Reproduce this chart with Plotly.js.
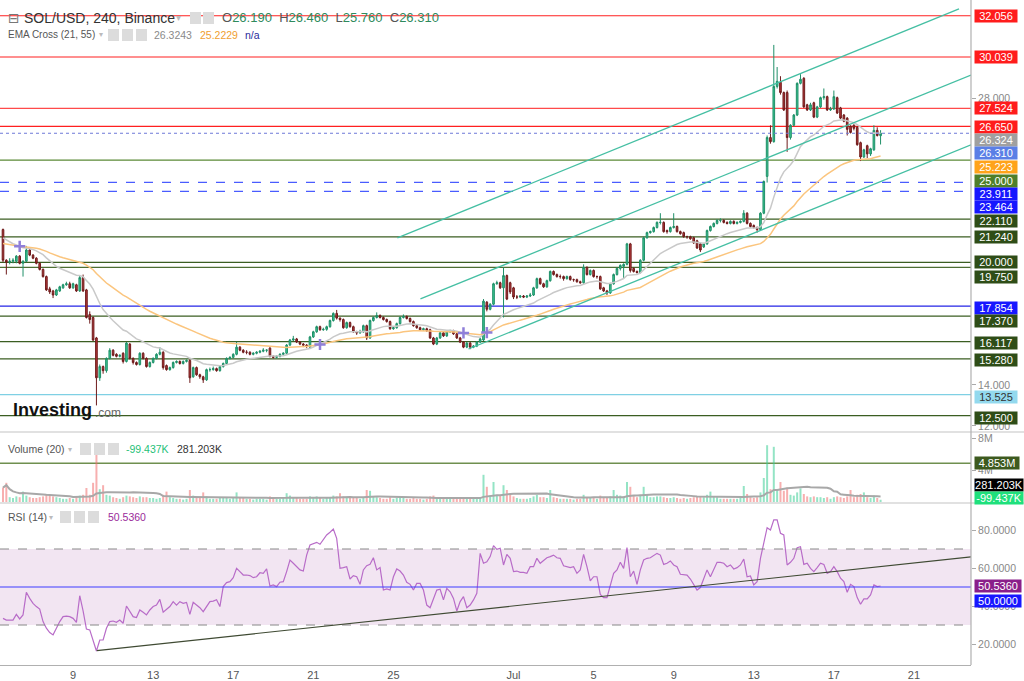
<!DOCTYPE html>
<html><head><meta charset="utf-8">
<script src="https://cdn.plot.ly/plotly-3.0.1.min.js"></script>
<style>html,body{margin:0;padding:0;background:#fff;} #chart{width:1024px;height:681px;}</style>
</head><body><div id="chart"></div>
<script>
// ---------------- DATA ----------------
const openPrice = [
21.60,20.10,20.00,20.05,20.05,20.30,19.95,20.05,20.60,20.35,
20.20,19.95,19.65,19.30,18.70,18.60,18.40,18.60,18.75,18.90,
18.95,18.75,18.90,18.60,19.25,18.65,17.45,17.30,16.30,14.35,
14.90,14.70,15.30,15.70,15.50,15.40,15.55,15.15,16.00,15.30,
15.10,15.00,15.55,15.30,14.90,15.10,15.30,15.50,15.60,14.95,
14.75,14.85,15.10,15.15,15.05,15.15,15.20,14.40,14.85,14.50,
14.40,14.25,14.75,14.75,14.80,14.70,14.90,15.05,15.30,15.35,
15.50,15.85,15.70,15.60,15.60,15.50,15.55,15.60,15.65,15.70,
15.80,15.40,15.35,15.40,15.50,15.55,15.95,16.20,16.25,16.10,
16.00,15.95,15.85,16.35,16.60,16.85,16.70,16.72,16.85,17.15,
17.50,17.27,17.20,16.80,17.05,16.85,16.60,16.55,16.60,16.90,
16.30,17.15,17.30,17.40,17.30,17.20,17.10,16.75,16.80,17.00,
17.30,17.35,17.25,17.10,16.90,16.80,16.70,16.75,16.70,16.30,
16.00,16.30,16.55,16.40,16.60,16.65,16.50,16.30,16.10,15.85,
16.05,15.85,15.90,16.10,16.20,18.05,17.70,17.95,18.95,19.00,
18.75,19.35,19.00,18.75,18.30,18.30,18.35,18.30,18.35,18.40,
18.75,19.20,18.95,18.80,19.10,19.55,19.40,19.30,19.30,19.20,
19.30,19.15,19.15,19.05,19.00,19.75,19.40,19.60,19.30,19.30,
18.75,18.60,18.50,18.95,19.40,19.70,19.80,19.90,20.90,19.70,
19.55,19.50,20.10,21.20,21.45,21.50,21.70,21.95,21.95,21.55,
21.50,21.70,21.75,21.50,21.45,21.25,21.25,21.20,21.05,20.90,
20.75,20.90,21.55,21.75,21.90,22.05,22.05,21.95,21.90,22.00,
21.90,21.95,22.00,22.40,21.90,21.80,21.70,21.60,22.40,24.20,
26.10,25.90,28.60,28.80,28.30,28.30,26.10,26.70,27.20,28.75,
29.00,27.70,27.45,27.80,27.10,27.60,28.05,28.10,27.45,27.50,
28.05,27.55,27.20,27.05,26.65,26.70,26.60,25.85,25.15,25.70,
25.30,25.50,26.45,26.19];
const highPrice = [
21.65,20.15,20.20,20.20,20.35,20.35,20.10,20.80,20.65,20.40,
20.25,20.00,19.70,19.35,18.80,18.65,18.70,18.85,18.95,19.05,
19.05,19.00,18.95,19.35,19.40,18.70,17.60,17.35,16.35,15.00,
14.95,15.35,15.80,15.75,15.55,15.50,15.60,16.10,16.05,15.35,
15.15,15.60,15.60,15.35,15.15,15.35,15.55,15.85,15.65,15.00,
14.90,15.15,15.20,15.20,15.20,15.25,15.25,14.90,14.90,14.55,
14.45,14.80,14.85,14.90,14.85,14.95,15.10,15.35,15.40,15.55,
16.10,15.90,15.75,15.70,15.65,15.60,15.65,15.70,15.80,15.75,
15.85,15.45,15.45,15.55,15.60,16.00,16.25,16.40,16.30,16.15,
16.05,16.00,16.40,16.65,16.90,16.90,16.80,16.90,17.20,17.55,
17.67,17.30,17.25,17.10,17.10,16.90,16.65,16.70,16.95,16.95,
17.20,17.35,17.55,17.45,17.35,17.25,17.15,16.85,17.05,17.35,
17.45,17.40,17.30,17.15,16.95,16.85,16.80,16.80,16.75,16.35,
16.35,16.60,16.60,16.65,16.70,16.70,16.55,16.35,16.15,16.10,
16.10,15.95,16.15,16.30,18.20,18.10,18.00,19.00,19.10,19.05,
19.75,19.40,19.05,18.80,18.40,18.40,18.40,18.40,18.50,18.80,
19.25,19.25,19.00,19.15,19.60,19.60,19.45,19.40,19.35,19.35,
19.35,19.20,19.20,19.10,19.90,19.80,19.65,19.65,19.35,19.35,
18.80,18.65,19.00,19.45,19.75,19.90,19.95,20.95,20.95,19.75,
19.60,20.15,21.25,21.50,21.55,21.75,22.00,22.40,22.00,21.60,
21.75,22.40,21.80,21.55,21.50,21.30,21.30,21.25,21.10,20.95,
20.95,21.60,21.80,21.95,22.10,22.15,22.10,22.00,22.05,22.05,
22.00,22.05,22.55,22.45,21.95,21.85,21.75,22.45,24.00,26.20,
26.70,30.63,29.55,29.10,28.35,28.40,26.75,27.25,28.80,29.20,
29.05,27.75,27.80,27.85,27.65,28.10,28.50,28.15,27.60,28.40,
28.10,27.60,27.25,27.10,26.70,26.75,26.65,25.90,25.55,25.75,
25.60,26.70,26.60,26.46];
const lowPrice = [
20.00,19.40,19.90,19.95,19.95,19.90,19.30,20.00,20.30,20.15,
19.90,19.60,19.25,18.60,18.45,18.25,18.35,18.55,18.70,18.85,
18.70,18.70,18.55,18.55,18.55,17.25,17.00,16.15,13.00,14.20,
14.55,14.60,15.25,15.40,15.35,15.35,15.05,15.10,15.25,15.00,
14.95,14.95,15.25,14.85,14.85,15.05,15.25,15.45,14.75,14.70,
14.70,14.80,15.05,15.00,15.00,15.10,14.10,14.35,14.45,14.30,
14.10,14.20,14.65,14.70,14.65,14.65,14.85,15.00,15.25,15.30,
15.45,15.65,15.55,15.50,15.45,15.45,15.50,15.55,15.60,15.60,
15.35,15.30,15.30,15.35,15.45,15.50,15.90,16.15,16.05,15.95,
15.85,15.80,15.80,16.30,16.55,16.65,16.65,16.65,16.80,17.10,
17.20,17.10,16.75,16.75,16.80,16.55,16.45,16.50,16.55,16.20,
16.25,17.10,17.25,17.25,17.15,17.05,16.70,16.70,16.75,16.95,
17.25,17.20,17.05,16.85,16.75,16.65,16.65,16.60,16.25,15.95,
15.95,16.25,16.35,16.35,16.55,16.45,16.25,16.05,15.80,15.80,
15.75,15.80,15.85,16.05,16.15,17.60,17.65,17.90,18.90,18.70,
17.30,18.15,18.45,18.20,18.20,18.25,18.25,18.25,18.30,18.35,
18.70,18.90,18.75,18.75,19.05,19.35,19.25,19.20,19.10,19.15,
19.10,19.05,19.00,18.95,18.95,19.35,19.35,19.25,19.20,18.65,
18.55,18.40,18.45,18.90,19.35,19.60,19.20,19.85,19.50,19.50,
19.45,19.45,20.05,21.15,21.40,21.45,21.65,21.85,21.45,21.40,
21.45,21.65,21.45,21.35,21.20,21.15,21.10,20.90,20.65,20.50,
20.70,20.85,21.50,21.70,21.85,21.95,21.90,21.85,21.85,21.85,
21.85,21.90,21.95,21.85,21.70,21.65,21.45,21.55,22.35,23.90,
25.80,25.85,28.50,28.20,27.40,25.40,26.00,26.65,27.15,28.70,
27.55,27.40,27.40,27.05,27.05,27.55,27.95,27.40,27.40,27.45,
27.25,27.00,26.85,26.20,26.30,26.45,25.70,24.95,25.10,25.10,
25.20,25.45,26.15,25.76];
const closePrice = [
20.10,20.00,20.05,20.10,20.30,19.95,20.05,20.60,20.35,20.20,
19.95,19.65,19.30,18.65,18.55,18.40,18.65,18.80,18.90,18.95,
18.75,18.95,18.60,19.25,18.60,17.30,17.20,16.20,14.35,14.90,
14.70,15.30,15.70,15.45,15.40,15.45,15.15,16.05,15.30,15.10,
15.00,15.55,15.30,14.90,15.10,15.30,15.50,15.60,14.85,14.75,
14.85,15.10,15.15,15.05,15.15,15.20,14.35,14.85,14.50,14.40,
14.25,14.75,14.75,14.80,14.70,14.90,15.05,15.30,15.35,15.50,
15.85,15.70,15.60,15.60,15.50,15.55,15.60,15.65,15.70,15.70,
15.40,15.35,15.40,15.50,15.55,15.95,16.20,16.25,16.10,16.00,
15.95,15.90,16.35,16.60,16.85,16.70,16.72,16.85,17.15,17.50,
17.27,17.20,16.80,17.05,16.85,16.60,16.55,16.60,16.90,16.30,
17.15,17.30,17.40,17.30,17.20,17.10,16.75,16.80,17.00,17.30,
17.35,17.25,17.10,16.90,16.80,16.70,16.75,16.65,16.30,16.00,
16.30,16.55,16.40,16.60,16.65,16.50,16.30,16.10,15.85,16.05,
15.85,15.90,16.10,16.25,18.10,17.70,17.95,18.95,19.00,18.75,
19.35,18.20,18.55,18.30,18.30,18.35,18.30,18.35,18.40,18.75,
19.20,18.95,18.80,19.10,19.55,19.40,19.30,19.30,19.20,19.30,
19.15,19.15,19.05,19.00,19.75,19.40,19.60,19.30,19.30,18.70,
18.60,18.50,18.95,19.40,19.70,19.85,19.90,20.90,19.60,19.55,
19.50,20.10,21.20,21.45,21.50,21.70,21.95,21.95,21.50,21.50,
21.70,21.75,21.50,21.40,21.25,21.25,21.15,20.95,20.70,20.60,
20.90,21.55,21.75,21.90,22.05,22.05,21.95,21.90,22.00,21.90,
21.95,22.00,22.40,21.90,21.75,21.70,21.60,22.40,23.95,26.10,
25.90,28.60,28.85,28.30,27.45,26.10,26.70,27.20,28.75,28.95,
27.60,27.45,27.70,27.10,27.60,28.05,28.10,27.45,27.50,28.10,
27.30,27.05,26.90,26.50,26.35,26.55,25.75,25.15,25.50,25.30,
25.55,26.45,26.20,26.31];
// volume in millions
const volumeM = [
1.8,2.4,0.6,0.5,0.7,0.6,1.3,0.8,0.6,0.5,
0.5,0.6,0.7,0.9,0.8,0.7,0.6,0.5,0.4,0.4,
0.5,0.4,0.6,0.8,0.9,1.75,0.9,2.4,6.3,1.6,
2.1,0.9,0.8,0.6,0.5,0.4,0.6,0.8,0.7,0.6,
0.5,0.7,0.6,0.6,0.5,0.5,0.4,0.5,0.9,1.3,
0.6,0.5,0.4,0.4,0.3,0.4,1.5,0.8,0.6,0.5,
1.2,0.7,0.4,0.4,0.4,0.5,0.5,0.6,0.4,0.5,
1.2,0.6,0.5,0.4,0.4,0.3,0.4,0.4,0.4,0.3,
0.7,0.5,0.4,0.4,0.5,1.1,0.8,0.5,0.5,0.4,
0.4,0.4,0.7,0.6,0.7,0.5,0.4,0.5,0.6,0.8,
0.7,1.1,0.7,0.5,0.5,0.6,0.5,0.4,0.6,1.5,
1.4,0.7,0.6,0.5,0.4,0.4,0.6,0.4,0.5,0.6,
0.5,0.4,0.4,0.5,0.4,0.4,0.3,0.4,0.7,0.8,
0.6,0.5,0.4,0.4,0.4,0.4,0.5,0.5,0.6,0.5,
0.6,0.4,0.4,0.6,3.4,1.9,0.8,2.5,0.9,0.8,
2.1,1.5,0.9,0.7,0.5,0.4,0.4,0.4,0.5,0.7,
0.9,0.6,0.6,0.5,1.5,0.6,0.5,0.4,0.4,0.4,
0.4,0.3,0.4,0.4,0.9,0.6,0.5,0.5,0.4,0.8,
0.6,0.5,0.7,1.5,0.9,0.8,0.7,2.5,1.9,0.8,
0.6,0.9,1.9,0.9,0.6,0.6,0.7,0.7,0.6,0.5,
0.5,0.6,0.5,0.4,0.5,0.4,0.5,0.6,0.7,0.7,
0.6,0.9,1.3,0.7,0.6,0.4,0.4,0.4,0.4,0.4,
0.4,0.5,2.0,1.0,0.6,0.5,0.6,1.2,3.0,7.1,
1.6,6.9,1.5,2.5,1.4,1.8,0.9,0.8,1.2,1.7,
1.0,0.7,0.6,0.7,0.6,0.6,0.5,0.6,0.4,0.6,
0.7,0.6,0.5,0.7,1.5,0.6,0.9,1.0,1.2,0.6,
0.5,0.8,0.5,0.281];
const rsiValues = [
33.5,32.6,32.6,32.6,35.6,33.2,35.3,47.2,44.0,41.4,
39.7,38.4,31.8,28.3,26.0,24.8,28.3,31.8,34.4,34.7,
34.4,33.5,31.4,45.4,37.4,27.9,27.4,22.1,16.3,22.1,
22.1,28.3,31.8,32.1,31.4,32.6,30.9,40.0,37.4,34.4,
33.9,37.9,36.7,35.3,37.9,39.7,40.5,43.5,36.7,38.4,
39.7,42.3,40.5,42.3,41.4,41.9,35.6,41.9,40.5,39.1,
37.0,39.7,42.3,42.6,43.3,39.7,50.2,52.3,52.8,54.9,
59.8,58.1,56.3,56.3,56.0,54.9,55.4,57.5,57.2,59.5,
50.5,51.1,50.2,52.5,52.8,58.1,64.2,62.5,60.7,59.0,
58.4,66.8,72.1,73.0,73.5,72.5,74.7,77.4,78.8,80.5,
75.6,59.8,60.2,60.7,54.2,56.0,55.4,51.4,59.0,61.2,
61.9,65.4,59.0,60.2,48.4,49.0,48.4,55.4,59.5,58.4,
56.3,52.5,51.4,48.4,51.9,51.9,48.4,40.5,39.1,44.0,
48.4,48.8,43.2,49.3,47.5,44.0,37.4,42.3,44.9,39.1,
40.5,43.2,46.7,67.7,62.5,63.3,66.0,71.8,69.8,70.4,
61.6,67.2,65.1,58.1,58.4,57.7,57.7,57.2,60.7,60.7,
65.1,62.5,64.2,65.4,66.0,66.8,65.4,65.1,61.2,60.7,
60.2,60.7,57.2,59.0,67.2,60.7,53.2,55.4,55.4,46.1,
44.4,44.4,51.1,57.2,59.0,63.0,59.8,70.7,55.4,58.4,
51.4,59.0,64.2,65.1,65.4,66.5,67.7,66.8,61.9,62.5,
63.7,61.6,60.7,56.7,56.3,56.3,54.2,51.1,48.4,49.7,
54.6,59.0,55.4,59.5,63.0,63.0,62.5,60.7,61.6,59.5,
60.2,61.6,64.7,55.4,55.8,51.1,52.8,65.1,73.9,81.2,
80.0,85.3,85.3,78.3,77.4,61.6,63.0,65.1,70.7,71.2,
61.9,62.5,59.8,58.1,60.2,62.5,61.9,57.2,58.1,60.7,
58.1,54.6,52.8,47.2,51.4,50.2,44.4,40.9,43.7,43.7,
45.8,51.1,50.2,50.536];
// EMA starting values read at the left edge of the picture
const ema21Start = 21.3, ema55Start = 20.95;
// horizontal price levels drawn on the chart
const priceLevels = [32.056,30.039,27.524,26.650,25.000,23.911,23.464,22.110,21.240,20.000,19.750,17.854,17.370,16.117,15.280,13.525,12.500];
const lastPrice = 26.310, ema21Last = 26.324, ema55Last = 25.223;
const volumeLevel = 4.853;
// trend channel lines [start date, start price, end date, end price]
const channelStart = ['2021-06-25 04:48','2021-06-26 08:24','2021-06-28 18:00'];
const channelStartPrice = [21.19, 18.21, 15.76];
const channelEnd = ['2021-07-23 06:00','2021-07-23 20:24','2021-07-23 20:24'];
const channelEndPrice = [32.39, 29.16, 25.74];
const rsiTrend = {x: ['2021-06-10 04:26','2021-07-23 20:24'], y: [16.5, 65.9]};
const dateTickVals = ['2021-06-09','2021-06-13','2021-06-17','2021-06-21','2021-06-25','2021-07-01','2021-07-05','2021-07-09','2021-07-13','2021-07-17','2021-07-21'];
const dateTickText = ['9','13','17','21','25','Jul','5','9','13','17','21'];

// ---------------- BUILD ----------------
const W = 1024, H = 681;
const X = x => x / W, Y = y => 1 - y / H;
const t0 = Date.UTC(2021, 5, 5, 12, 0, 0);
const STEP = 4 * 3600 * 1000;
const fmt = ms => new Date(ms).toISOString().slice(0, 16).replace('T', ' ');
const times = closePrice.map((_, i) => fmt(t0 + i * STEP));

function ema(src, n, start) { const k = 2 / (n + 1); let p = start; return src.map(v => (p = v * k + p * (1 - k))); }
const ema21 = ema(closePrice, 21, ema21Start);
const ema55 = ema(closePrice, 55, ema55Start);
const crossX = [], crossY = [];
for (let i = 1; i < ema21.length; i++) {
  if ((ema21[i] - ema55[i]) * (ema21[i - 1] - ema55[i - 1]) < 0) { crossX.push(times[i]); crossY.push(ema55[i]); }
}
const volMA = volumeM.map((_, i) => { const s = volumeM.slice(Math.max(0, i - 19), i + 1); return s.reduce((a, b) => a + b, 0) / s.length; });
const volColors = closePrice.map((c, i) => c >= openPrice[i] ? 'rgba(60,205,150,0.55)' : 'rgba(240,110,110,0.55)');

const FONT = 'Liberation Sans, Arial, sans-serif';
const RIGHT = 971;

const traces = [
  {type:'candlestick', x:times, open:openPrice, high:highPrice, low:lowPrice, close:closePrice, xaxis:'x', yaxis:'y',
   increasing:{line:{color:'#1f8f68', width:1}, fillcolor:'#3cc894'},
   decreasing:{line:{color:'#6e1b1b', width:1}, fillcolor:'#b5383a'},
   whiskerwidth:0, hoverinfo:'skip', showlegend:false},
  {type:'scatter', mode:'lines', x:times, y:ema21, xaxis:'x', yaxis:'y', line:{color:'#c9c9c9', width:1.5}, hoverinfo:'skip', showlegend:false},
  {type:'scatter', mode:'lines', x:times, y:ema55, xaxis:'x', yaxis:'y', line:{color:'#fbc57e', width:1.5}, hoverinfo:'skip', showlegend:false},
  {type:'scatter', mode:'markers', x:crossX, y:crossY, xaxis:'x', yaxis:'y', marker:{symbol:'cross-thin', size:8, line:{color:'#8f7fd9', width:2.5}}, hoverinfo:'skip', showlegend:false},
  {type:'bar', x:times, y:volumeM, xaxis:'x', yaxis:'y2', width:STEP*0.6, marker:{color:volColors}, hoverinfo:'skip', showlegend:false},
  {type:'scatter', mode:'lines', x:times, y:volMA, xaxis:'x', yaxis:'y2', line:{color:'#a8a8a8', width:2}, hoverinfo:'skip', showlegend:false},
  {type:'scatter', mode:'lines', x:times, y:rsiValues, xaxis:'x', yaxis:'y3', line:{color:'#b86cc8', width:1.2}, hoverinfo:'skip', showlegend:false}
];

const levelColor = ['#ff2020','#ff2020','#ff4a4a','#ff2020','#5b8a36','#4a5cff','#4a5cff','#3b5e22','#3b5e22','#3b5e22','#4d6e33','#2424e6','#3b5e22','#3b5e22','#3b5e22','#7fd0e4','#3b5e22'];
const levelDash = priceLevels.map((v, i) => (i === 5 || i === 6) ? 'dash' : 'solid');
const labelBg = ['#ff1c1c','#ff1c1c','#ff1c1c','#ff1c1c','#4f7f2a','#1717ff','#1717ff','#2e4d17','#2e4d17','#2e4d17','#2e4d17','#1717ff','#2e4d17','#2e4d17','#2e4d17','#93d9ee','#2e4d17'];
const labelShift = [0,0,0,-1,-20.5,-11.7,-15.5,-2,0,0,-9.3,-1.5,-4.6,-1.3,-1.2,-2,-2.3];

const shapes = [];
const annotations = [];
priceLevels.forEach((v, i) => {
  shapes.push({type:'line', xref:'paper', yref:'y', x0:0, x1:X(RIGHT), y0:v, y1:v, layer:'below', line:{color:levelColor[i], width:1.2, dash:levelDash[i]}});
  annotations.push({xref:'paper', yref:'y', x:X(974), y:v, yshift:labelShift[i], xanchor:'left', yanchor:'middle', showarrow:false,
    text:v.toFixed(3), bgcolor:labelBg[i], width:42, height:12, borderpad:0,
    font:{family:FONT, size:11, color: i === 15 ? '#333' : '#fff'}});
});
// last price dotted line
shapes.push({type:'line', xref:'paper', yref:'y', x0:0, x1:X(RIGHT), y0:lastPrice, y1:lastPrice, line:{color:'#6d78d8', width:1, dash:'dot'}});
[[ema21Last,'#a0a0a0',-7],[lastPrice,'#5b7fe6',-20],[ema55Last,'#ffa31a',-11.5]].forEach(([v,c,s]) => {
  annotations.push({xref:'paper', yref:'y', x:X(974), y:v, yshift:s, xanchor:'left', yanchor:'middle', showarrow:false,
    text:v.toFixed(3), bgcolor:c, width:42, height:12, borderpad:0, font:{family:FONT, size:11, color:'#fff'}});
});
// channels
channelStart.forEach((d, i) => {
  shapes.push({type:'line', xref:'x', yref:'y', x0:d, y0:channelStartPrice[i], x1:channelEnd[i], y1:channelEndPrice[i], line:{color:'#45bfa3', width:1.3}});
});
// volume level
shapes.push({type:'line', xref:'paper', yref:'y2', x0:0, x1:X(RIGHT), y0:volumeLevel, y1:volumeLevel, layer:'below', line:{color:'#6f8f4f', width:1.5}});
annotations.push({xref:'paper', yref:'y2', x:X(974), y:volumeLevel, xanchor:'left', yanchor:'middle', showarrow:false, text:volumeLevel.toFixed(3)+'M', bgcolor:'#3d5a1f', width:44, height:12, borderpad:0, font:{family:FONT, size:11, color:'#fff'}});
annotations.push({xref:'paper', yref:'paper', x:X(974), y:Y(485), xanchor:'left', yanchor:'middle', showarrow:false, text:'281.203K', bgcolor:'#000', width:48, height:12, borderpad:0, font:{family:FONT, size:11, color:'#fff'}});
annotations.push({xref:'paper', yref:'paper', x:X(974), y:Y(498), xanchor:'left', yanchor:'middle', showarrow:false, text:'-99.437K', bgcolor:'#1fe07c', width:48, height:12, borderpad:0, font:{family:FONT, size:11, color:'#fff'}});
// RSI band, lines
shapes.push({type:'rect', xref:'paper', yref:'y3', x0:0, x1:X(RIGHT), y0:30, y1:70, layer:'below', fillcolor:'#f2e5f2', line:{width:0}});
shapes.push({type:'line', xref:'paper', yref:'y3', x0:0, x1:X(RIGHT), y0:70, y1:70, line:{color:'#888', width:1, dash:'dash'}});
shapes.push({type:'line', xref:'paper', yref:'y3', x0:0, x1:X(RIGHT), y0:30, y1:30, line:{color:'#888', width:1, dash:'dash'}});
shapes.push({type:'line', xref:'paper', yref:'y3', x0:0, x1:X(RIGHT), y0:50, y1:50, line:{color:'#3c3cff', width:1.2}});
shapes.push({type:'line', xref:'x', yref:'y3', x0:rsiTrend.x[0], y0:rsiTrend.y[0], x1:rsiTrend.x[1], y1:rsiTrend.y[1], line:{color:'#3f4a33', width:1.2}});
annotations.push({xref:'paper', yref:'y3', x:X(974), y:rsiValues[rsiValues.length-1], xanchor:'left', yanchor:'middle', showarrow:false, text:'50.5360', bgcolor:'#8a1f8a', width:46, height:12, borderpad:0, font:{family:FONT, size:11, color:'#fff'}});
annotations.push({xref:'paper', yref:'y3', x:X(974), y:50, yshift:-13.7, xanchor:'left', yanchor:'middle', showarrow:false, text:'50.0000', bgcolor:'#1717ff', width:46, height:12, borderpad:0, font:{family:FONT, size:11, color:'#fff'}});
// separators and right axis line
[432, 503].forEach(y => shapes.push({type:'line', xref:'paper', yref:'paper', x0:0, x1:1, y0:Y(y), y1:Y(y), line:{color:'#c4c4c4', width:1.2}}));
shapes.push({type:'line', xref:'paper', yref:'paper', x0:X(RIGHT), x1:X(RIGHT), y0:Y(665), y1:1, line:{color:'#b0b0b0', width:1.2}});

// header icons (small grey squares)
const iconRows = [[18,[190,203]],[35,[108,122,136]],[449,[80,94,108]],[517,[60,74,88]]];
iconRows.forEach(([y, xs]) => xs.forEach(x => shapes.push({type:'rect', xref:'paper', yref:'paper', x0:X(x), x1:X(x+11), y0:Y(y+6), y1:Y(y-6), fillcolor:'#dcdcdc', line:{width:0}})));

function txt(x, y, text, size, color, family) {
  annotations.push({xref:'paper', yref:'paper', x:X(x), y:Y(y), xanchor:'left', yanchor:'middle', showarrow:false, text, font:{family:family||FONT, size, color}});
}
txt(6, 18, '⊟', 14, '#777', 'DejaVu Sans');
txt(22, 18, 'SOL/USD, 240, Binance', 14, '#333');
txt(174, 18, '▾', 10, '#bbb', 'DejaVu Sans');
const G = '#2f8a5c';
txt(220, 18, `<span style="color:#555">O</span>26.190  <span style="color:#555">H</span>26.460  <span style="color:#555">L</span>25.760  <span style="color:#555">C</span>26.310`, 13, G);
txt(6, 35, 'EMA Cross (21, 55)', 10, '#555');
txt(97, 35, '▾', 8, '#bbb', 'DejaVu Sans');
txt(152, 35, '26.3243', 10.5, '#8a8a8a');
txt(198, 35, '25.2229', 10.5, '#f0a030');
txt(243, 35, 'n/a', 10.5, '#2a2a9a');
txt(6, 449, 'Volume (20)', 10.5, '#555');
txt(66, 449, '▾', 8, '#bbb', 'DejaVu Sans');
txt(124, 449, '-99.437K', 10.5, '#1fbf78');
txt(175, 449, '281.203K', 10.5, '#333');
txt(6, 517, 'RSI (14)', 10.5, '#555');
txt(47, 517, '▾', 8, '#bbb', 'DejaVu Sans');
txt(106, 517, '50.5360', 10.5, '#9a2a9a');
txt(11, 410, '<b>Investing</b>', 18, '#111');
txt(93, 413, '.com', 12, '#666');

const axisCommon = {showgrid:false, zeroline:false, fixedrange:true, side:'right', ticks:'outside', ticklen:4, tickcolor:'#aaa', tickfont:{family:FONT, size:10.5, color:'#888'}};
const layout = {
  width:W, height:H, margin:{l:0, r:0, t:0, b:0}, paper_bgcolor:'#fff', plot_bgcolor:'#fff',
  font:{family:FONT}, showlegend:false, dragmode:false, hovermode:false,
  xaxis:{type:'date', domain:[0, X(RIGHT)], range:['2021-06-05 08:24','2021-07-23 20:24'], anchor:'y3',
    rangeslider:{visible:false}, showgrid:false, zeroline:false, showline:true, linecolor:'#b0b0b0',
    tickmode:'array', tickvals:dateTickVals, ticktext:dateTickText, ticks:'', tickfont:{family:FONT, size:11, color:'#555'}, fixedrange:true},
  yaxis:Object.assign({}, axisCommon, {domain:[Y(432), Y(3)], range:[11.70, 32.68], anchor:'x', tickmode:'array', tickvals:[12,14,28], ticktext:['12.000','14.000','28.000']}),
  yaxis2:Object.assign({}, axisCommon, {domain:[Y(502), Y(437)], range:[0, 8.125], anchor:'x', tickmode:'array', tickvals:[4,8], ticktext:['4M','8M']}),
  yaxis3:Object.assign({}, axisCommon, {domain:[Y(665), Y(505)], range:[8.95, 93.16], anchor:'x', tickmode:'array', tickvals:[20,40,60,80], ticktext:['20.0000','40.0000','60.0000','80.0000']}),
  shapes, annotations
};
Plotly.newPlot('chart', traces, layout, {staticPlot:true, displayModeBar:false});
</script></body></html>
